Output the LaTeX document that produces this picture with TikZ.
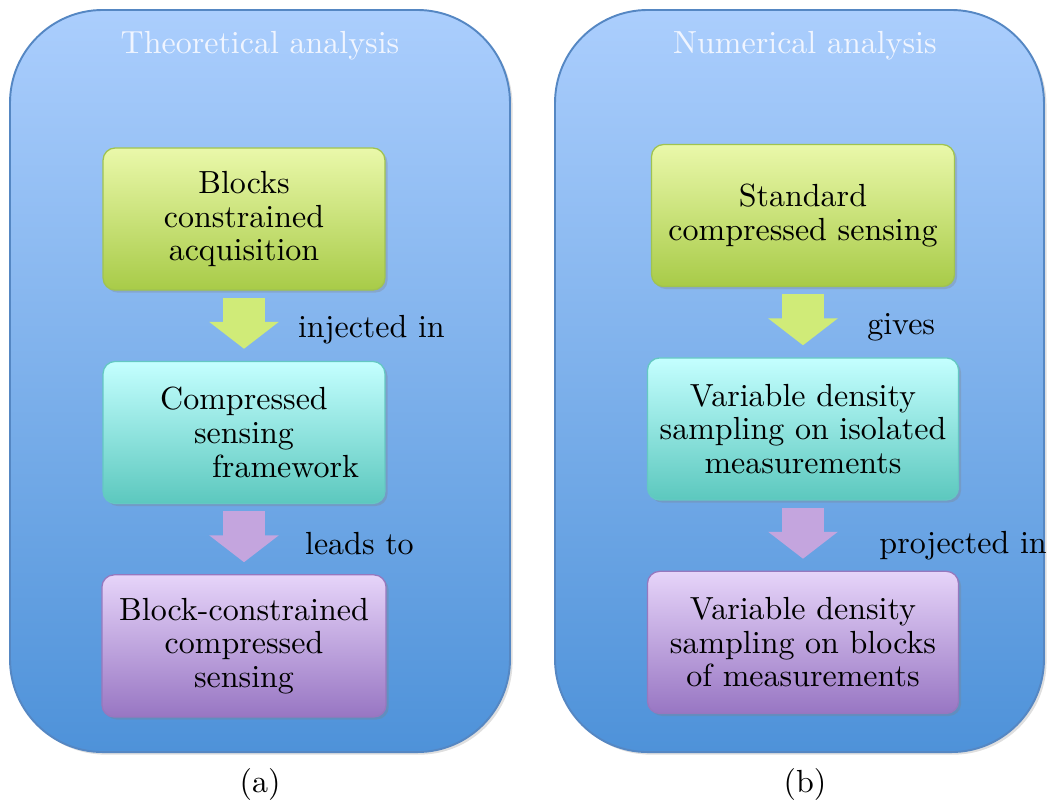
\documentclass[tikz,border=0pt]{standalone}
\usetikzlibrary{arrows.meta, positioning, shadows}

\definecolor{paneltop}{RGB}{171,206,253}
\definecolor{panelbot}{RGB}{78,146,217}
\definecolor{panelline}{RGB}{85,135,195}
\definecolor{titlecol}{RGB}{240,245,255}
\definecolor{greentop}{RGB}{234,248,170}
\definecolor{greenbot}{RGB}{168,203,72}
\definecolor{greenline}{RGB}{160,195,80}
\definecolor{cyantop}{RGB}{196,255,255}
\definecolor{cyanbot}{RGB}{92,200,190}
\definecolor{cyanline}{RGB}{100,200,195}
\definecolor{purptop}{RGB}{230,212,249}
\definecolor{purpbot}{RGB}{152,118,195}
\definecolor{purpline}{RGB}{150,120,190}
\definecolor{arrgreen}{RGB}{208,235,120}
\definecolor{arrpurp}{RGB}{196,165,222}

\begin{document}
\begin{tikzpicture} [x=0.3125pt, y=-0.3125pt, node distance=21.9pt,
        font=\fontsize{10}{10.5}\selectfont,
        panel/.style={rounded corners=29pt, draw=panelline, line width=0.6pt,
            top color=paneltop, bottom color=panelbot, minimum height=231.9pt,
            drop shadow={opacity=0.25, shadow xshift=0.8pt, shadow yshift=-0.8pt}},
        box/.style={rounded corners=3.8pt, align=center, line width=0.4pt,
            minimum width=88.1pt, minimum height=44.4pt,
            drop shadow={opacity=0.3, shadow xshift=0.8pt, shadow yshift=-0.8pt}},
        greenbox/.style={box, draw=greenline, top color=greentop, bottom color=greenbot},
        cyanbox/.style={box, draw=cyanline, top color=cyantop, bottom color=cyanbot},
        purpbox/.style={box, draw=purpline, top color=purptop, bottom color=purpbot},
        fat/.style={line width=13.4pt, shorten <=2.2pt, shorten >=3.75pt,
            -{Triangle[length=8.4pt, width=21.3pt]}},
        title/.style={text=titlecol},
        lbl/.style={inner sep=0pt}]
        \useasboundingbox (0,0) rectangle (1049,807);

        % panels
        \node (theo) [panel, minimum width=156.25pt] at (260,381) {};
        \node (num) [panel, minimum width=152.8pt] at (799.5,381) {};
        \node (theotitle) [title] at ([yshift=-11.3pt]theo.north) {Theoretical analysis};
        \node (numtitle) [title] at ([yshift=-11.3pt, xshift=1.7pt]num.north) {Numerical analysis};
        \node (capa) at ([yshift=-9.7pt]theo.south) {(a)};
        \node (capb) at ([yshift=-9.7pt, xshift=1.7pt]num.south) {(b)};

        % theoretical
        \node (acq) [greenbox] at (244,219) {Blocks\\constrained\\acquisition};
        \node (csf) [cyanbox, below=of acq] {Compressed\\sensing\\\hspace*{26pt}framework};
        \node (bcs) [purpbox, below=of csf, minimum width=88.8pt] {Block-constrained\\compressed\\sensing};

        % numerical
        \node (scs) [greenbox, minimum width=94.7pt] at (803,215.5) {Standard\\compressed sensing};
        \node (vdi) [cyanbox, minimum width=97.2pt, below=of scs] {Variable density\\sampling on isolated\\measurements};
        \node (vdb) [purpbox, minimum width=97.2pt, below=of vdi] {Variable density\\sampling on blocks\\of measurements};

        \path [fat, arrgreen] (acq) edge node [lbl, right=10.2pt, yshift=-1.2pt, text=black] {injected in} (csf);
        \path [fat, arrpurp] (csf) edge node [lbl, right=12.4pt, yshift=-1.5pt, text=black] {leads to} (bcs);
        \path [fat, arrgreen] (scs) edge node [lbl, right=13.4pt, yshift=-1.5pt, text=black] {gives} (vdi);
        \path [fat, arrpurp] (vdi) edge node [lbl, right=17.2pt, yshift=-3pt, text=black] {projected in} (vdb);
    \end{tikzpicture}
\end{document}
